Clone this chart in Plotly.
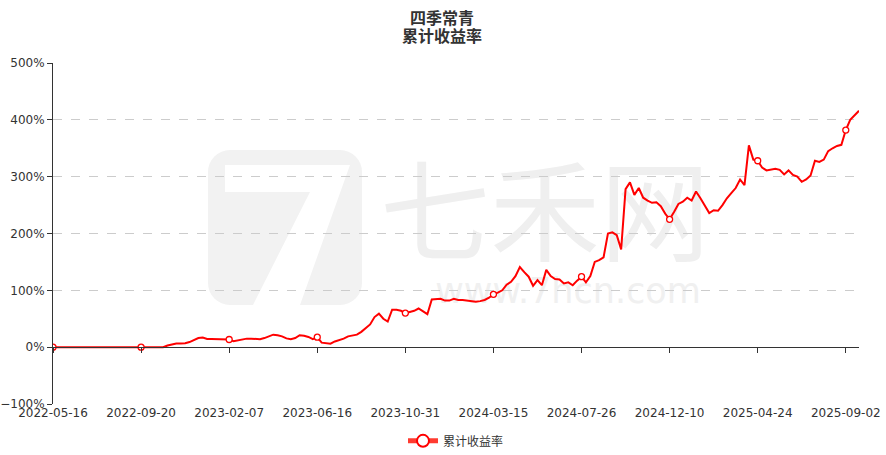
import base64
import numpy as np
import pandas as pd
import plotly.graph_objects as go

# ---- data ----
tick_dates = ["2022-05-16", "2022-09-20", "2023-02-07", "2023-06-16", "2023-10-31",
              "2024-03-15", "2024-07-26", "2024-12-10", "2025-04-24", "2025-09-02"]
tail_dates = ["2025-09-09", "2025-09-16", "2025-09-23"]
samples_per_interval = 20

cum_return = [
    0, 0, 0, 0, 0, 0, 0, 0, 0, 0, 0, 0, 0, 0, 0, 0, 0, 0, 0, 0,
    0, 0, 0, 0, 0, 0, 3, 5, 6.5, 6.5, 7, 9, 12, 16, 17, 14.5, 14.5, 14.5, 13.5, 13.5,
    13.5, 10.6, 12, 13.5, 15, 15, 14.5, 14, 16, 19, 22, 21, 19, 15.5, 14, 16, 21, 20, 18, 14,
    17.6, 8, 7.6, 6, 10, 12, 15, 19, 20, 22, 27, 33, 40, 53, 59, 50, 45, 66, 66, 64,
    60, 62, 64, 68, 63, 58, 84, 84, 85, 82, 82, 85, 83, 83, 82, 81, 80, 81, 83, 87,
    93, 96, 100, 110, 115, 125, 141, 132, 124, 108, 118, 109, 136, 125, 120, 119, 112, 114, 109, 117,
    124, 114, 125, 150, 153, 158, 200, 202, 197, 172, 278, 290, 268, 280, 263, 258, 254, 255, 248, 235,
    225, 238, 252, 256, 263, 258, 274, 262, 250, 236, 241, 240, 250, 262, 271, 280, 295, 285, 355, 330,
    328, 316, 311, 312, 314, 312, 304, 311, 303, 300, 291, 295, 302, 328, 326, 330, 345, 350, 354, 356,
    382, 400, 409, 416,
]

# ---- build category dates (evenly sampled trading days between the labelled dates) ----
dates = []
for a, b in zip(tick_dates[:-1], tick_dates[1:]):
    days = pd.bdate_range(a, b)[:-1]
    idx = np.round(np.linspace(0, len(days), samples_per_interval, endpoint=False)).astype(int)
    dates += [d.strftime("%Y-%m-%d") for d in days[idx]]
dates += [tick_dates[-1]] + tail_dates
assert len(dates) == len(cum_return)

# symbols only at the labelled dates (separated by gaps so no extra segments are drawn)
tick_set = set(tick_dates)
mk_x, mk_y = [], []
for d, v in zip(dates, cum_return):
    if d in tick_set:
        mk_x += [d, None]
        mk_y += [v, None]

RED = "#ff0000"
fig = go.Figure()
fig.add_trace(go.Scatter(x=dates, y=cum_return, mode="lines", line=dict(color=RED, width=2),
                         showlegend=False, hoverinfo="x+y"))
fig.add_trace(go.Scatter(x=mk_x, y=mk_y, mode="lines+markers", name="累计收益率",
                         connectgaps=False, hoverinfo="skip",
                         line=dict(color="#ff3b30", width=1),
                         marker=dict(symbol="circle", size=6, color="white",
                                     line=dict(color=RED, width=1.3))))
# axis line at zero with tick marks
fig.add_trace(go.Scatter(x=[None], y=[None], xaxis="x2", showlegend=False))

# ---- faint watermark as a background image (plot-area pixel space 806x341) ----
svg = """<svg xmlns="http://www.w3.org/2000/svg" width="806" height="341" viewBox="0 0 806 341">
<rect x="155" y="87" width="154" height="155" rx="22" ry="22" fill="#f2f2f2"/>
<polygon points="172,102 297,102 247,242 200,242 257,129 172,129" fill="#ffffff"/>
<text x="492" y="142" font-family="Noto Sans CJK SC, sans-serif" font-size="110" fill="#efefef"
 text-anchor="middle" dominant-baseline="central">七禾网</text>
<text x="515" y="228" font-family="DejaVu Sans, sans-serif" font-size="35" fill="#f0f0f0"
 text-anchor="middle" dominant-baseline="central">www.7hcn.com</text>
</svg>"""
src = "data:image/svg+xml;base64," + base64.b64encode(svg.encode("utf-8")).decode("ascii")

n = len(dates)
font_lat = "DejaVu Sans, Verdana, sans-serif"
fig.update_layout(
    width=886, height=455,
    margin=dict(l=53, r=27, t=63, b=51, autoexpand=False),
    paper_bgcolor="white", plot_bgcolor="rgba(0,0,0,0)",
    font=dict(family=font_lat, size=12, color="#333"),
    showlegend=True,
    legend=dict(orientation="h", x=0.5, xanchor="center", y=-0.108, yanchor="middle",
                font=dict(family="Noto Sans CJK SC, sans-serif", size=12, color="#333"),
                itemsizing="constant"),
    images=[dict(source=src, xref="paper", yref="paper", x=0, y=1, sizex=1, sizey=1,
                 xanchor="left", yanchor="top", sizing="stretch", layer="below")],
    xaxis=dict(type="category", categoryorder="array", categoryarray=dates,
               range=[0, n - 1], tickmode="array", tickvals=tick_dates, ticktext=tick_dates,
               showgrid=False, showline=False, ticks="", zeroline=False,
               tickfont=dict(family=font_lat, size=12, color="#333")),
    xaxis2=dict(type="category", categoryorder="array", categoryarray=dates,
                overlaying="x", anchor="free", position=1 / 6, side="bottom",
                range=[0, n - 1], tickmode="array", tickvals=tick_dates,
                showticklabels=False, showgrid=False, showline=True, linecolor="#333",
                linewidth=1, ticks="outside", ticklen=5, tickcolor="#333", zeroline=False),
    yaxis=dict(range=[-100, 500], dtick=100, ticksuffix="%", showgrid=True,
               gridcolor="#cccccc", griddash="dash", gridwidth=1,
               showline=True, linecolor="#333", linewidth=1, ticks="outside",
               ticklen=5, tickcolor="#333", zeroline=False,
               tickfont=dict(family=font_lat, size=12, color="#333")),
    hovermode="x",
)

# title (two lines)
for txt, yy in (("四季常青", 1.135), ("累计收益率", 1.082)):
    fig.add_annotation(text=f"<b>{txt}</b>", xref="paper", yref="paper", x=0.483, y=yy,
                       showarrow=False, xanchor="center", yanchor="middle",
                       font=dict(family="Noto Sans CJK SC, sans-serif", size=16, color="#333"))

fig.write_html("out.html", config={"displayModeBar": False},
               post_script="document.body.style.margin='0';document.body.style.overflow='hidden';")
